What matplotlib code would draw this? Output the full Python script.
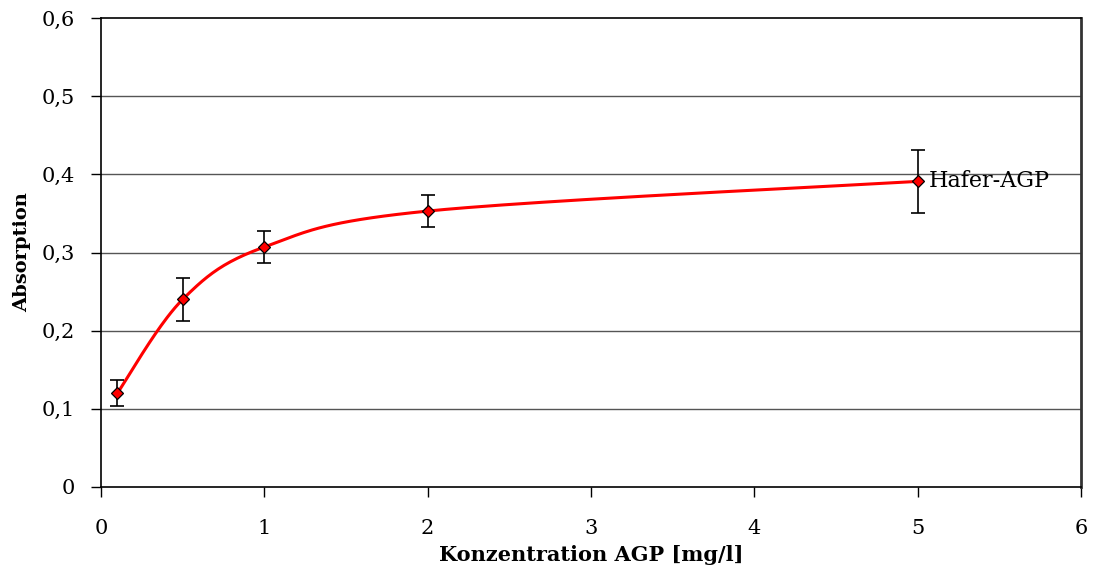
import matplotlib
matplotlib.use("Agg")
import matplotlib.pyplot as plt
import numpy as np

conc = [0.1, 0.5, 1, 2, 5]
absorption = [0.120, 0.240, 0.307, 0.353, 0.391]
err = [0.017, 0.028, 0.021, 0.021, 0.040]
series_name = "Hafer-AGP"

x_ticks = [0, 1, 2, 3, 4, 5, 6]
y_ticks = [0, 0.1, 0.2, 0.3, 0.4, 0.5, 0.6]
y_labels = ["0", "0,1", "0,2", "0,3", "0,4", "0,5", "0,6"]

plt.rcParams['font.family'] = ['DejaVu Serif']

fig = plt.figure(figsize=(10.94, 5.78), dpi=100)
ax = fig.add_axes([101 / 1094, 1 - 487 / 578, 980 / 1094, 469 / 578])
ax.set_xlim(0, 6)
ax.set_ylim(0, 0.6)


def smooth(xs, ys, n=40):
    # Bezier smoothing like a spreadsheet "smoothed line", done in screen space
    pts = ax.transData.transform(np.column_stack([xs, ys]))
    out = []
    for i in range(len(pts) - 1):
        p0 = pts[i - 1] if i > 0 else pts[i]
        p1 = pts[i]
        p2 = pts[i + 1]
        p3 = pts[i + 2] if i + 2 < len(pts) else pts[i + 1]
        c1 = p1 + (p2 - p0) / 6
        c2 = p2 - (p3 - p1) / 6
        t = np.linspace(0, 1, n)[:, None]
        seg = ((1 - t) ** 3) * p1 + 3 * ((1 - t) ** 2) * t * c1 + 3 * (1 - t) * t ** 2 * c2 + t ** 3 * p2
        out.append(seg)
    curve = np.vstack(out)
    return ax.transData.inverted().transform(curve)


curve = smooth(conc, absorption)
for y in y_ticks[1:-1]:
    ax.axhline(y, color="#555555", lw=1.0, zorder=1)
ax.plot(curve[:, 0], curve[:, 1], color="#ff0000", lw=2.2, zorder=2)
ax.errorbar(conc, absorption, yerr=err, fmt="none", ecolor="black", elinewidth=1.2,
            capsize=5, capthick=1.2, zorder=3)
ax.plot(conc, absorption, "D", color="#ff0000", markeredgecolor="black",
        markeredgewidth=0.9, markersize=6, zorder=4)
ax.text(conc[-1] + 0.07, absorption[-1], series_name, fontsize=16, va="center", ha="left",
        zorder=5)

ax.set_xticks(x_ticks)
ax.set_xticklabels([str(v) for v in x_ticks])
ax.set_yticks(y_ticks)
ax.set_yticklabels(y_labels)
ax.tick_params(direction="out", length=7, width=1, labelsize=15, pad=12)
ax.tick_params(axis="x", pad=16)
for s in ax.spines.values():
    s.set_color("black")
    s.set_linewidth(1.2)
ax.spines["right"].set_color("#333333")
ax.spines["right"].set_linewidth(2)

ax.set_xlabel("Konzentration AGP [mg/l]", fontsize=15, fontweight="bold", labelpad=5)
ax.set_ylabel("Absorption", fontsize=14, fontweight="bold", labelpad=7)

fig.savefig("out.png", dpi=100)
